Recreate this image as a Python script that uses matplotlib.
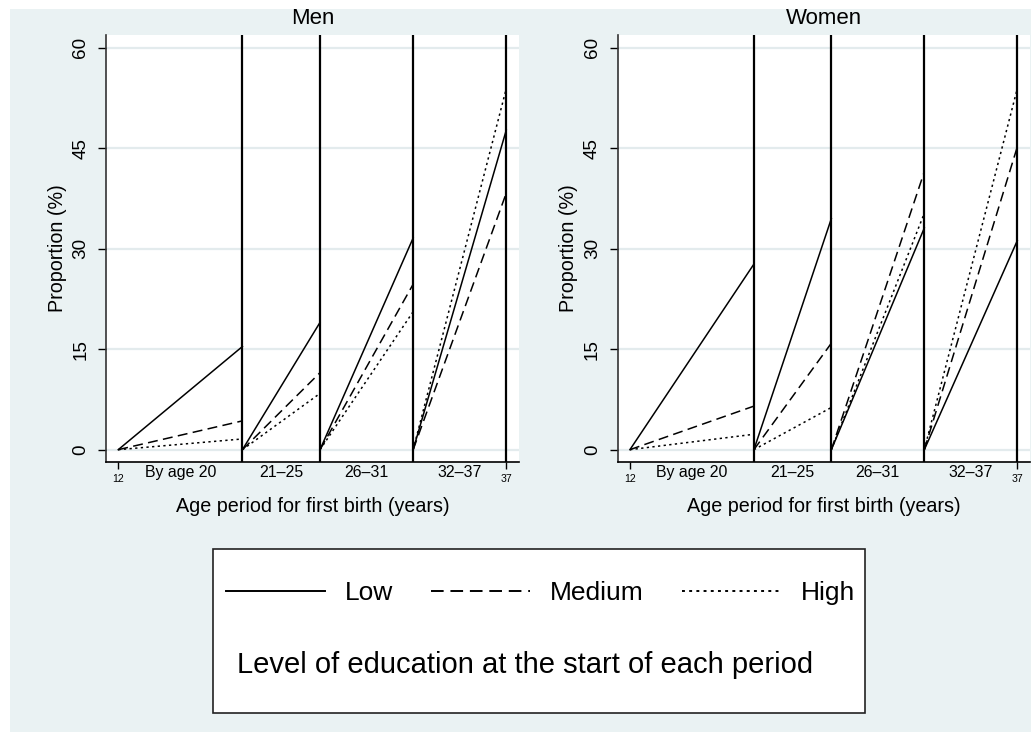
import matplotlib.pyplot as plt
from matplotlib.patches import Rectangle
from matplotlib.lines import Line2D

plt.rcParams['font.family'] = ['Liberation Sans', 'DejaVu Sans']

# ---- data ----
period_edges = [12, 20, 25, 31, 37]
period_labels = ["By age 20", "21\u201325", "26\u201331", "32\u201337"]
start_value = 0

men_low = [15.4, 19.0, 31.6, 47.7]
men_medium = [4.3, 11.5, 24.7, 38.3]
men_high = [1.6, 8.4, 20.6, 53.9]

women_low = [27.7, 34.5, 33.1, 31.2]
women_medium = [6.5, 15.9, 41.5, 45.2]
women_high = [2.3, 6.3, 35.3, 53.9]

y_ticks = [0, 15, 30, 45, 60]
edu_levels = ["Low", "Medium", "High"]

# ---- styles ----
bg = '#EAF2F3'
grid_col = '#E3EBED'
styles = {
    "Low": dict(linestyle='-'),
    "Medium": dict(dashes=(6.5, 3.5)),
    "High": dict(dashes=(1.5, 2.2)),
}

fig = plt.figure(figsize=(10.35, 7.32), dpi=100, facecolor='white')
fig.patches.append(Rectangle((10 / 1035, 0), 1021 / 1035, 723 / 732,
                             transform=fig.transFigure, facecolor=bg,
                             edgecolor='none', zorder=-10))

axes_pos = [[106 / 1035, 1 - 462 / 732, 413 / 1035, 427 / 732],
            [617.7 / 1035, 1 - 462 / 732, 412.3 / 1035, 427 / 732]]
panels = [("Men", men_low, men_medium, men_high),
          ("Women", women_low, women_medium, women_high)]

for pos, (title, low, med, high) in zip(axes_pos, panels):
    ax = fig.add_axes(pos)
    ax.set_facecolor('white')
    series = {"Low": low, "Medium": med, "High": high}
    for name in edu_levels:
        vals = series[name]
        for i in range(len(vals)):
            ax.plot([period_edges[i], period_edges[i + 1]], [start_value, vals[i]],
                    color='black', lw=1.1, zorder=3, **styles[name])
    for e in period_edges[1:]:
        ax.axvline(e, color='black', lw=1.6, zorder=4)

    ax.set_xlim(11.21, 37.82)
    ax.set_ylim(-1.84, 61.9)
    ax.set_yticks(y_ticks)
    ax.set_yticklabels([str(t) for t in y_ticks], fontsize=13.6)
    ax.tick_params(axis='y', labelrotation=90, length=6, width=1, pad=6)
    for lab in ax.get_yticklabels():
        lab.set_va('center')
    ax.set_xticks([period_edges[0], period_edges[-1]])
    ax.set_xticklabels([str(period_edges[0]), str(period_edges[-1])], fontsize=7.6)
    ax.tick_params(axis='x', which='major', length=5, width=1, pad=4)
    mids = [(period_edges[i] + period_edges[i + 1]) / 2 for i in range(len(period_labels))]
    ax.set_xticks(mids, minor=True)
    ax.set_xticklabels(period_labels, minor=True, fontsize=11.4)
    ax.tick_params(axis='x', which='minor', length=0, pad=2)

    ax.yaxis.grid(True, color=grid_col, lw=1.6, zorder=0)
    ax.set_axisbelow(True)
    for s in ['top', 'right']:
        ax.spines[s].set_visible(False)
    ax.spines['left'].set_color('#333333')
    ax.spines['left'].set_linewidth(1.2)
    ax.spines['bottom'].set_linewidth(1.2)

    ax.set_ylabel("Proportion (%)", fontsize=14.2, labelpad=4)
    ax.set_xlabel("Age period for first birth (years)", fontsize=14.2, labelpad=9)
    ax.text(0.5, 1 + 17 / 427, title, transform=ax.transAxes, ha='center',
            va='center', fontsize=16)

# ---- legend box ----
fig.patches.append(Rectangle((213 / 1035, 1 - 713 / 732), 652 / 1035, 164 / 732,
                             transform=fig.transFigure, facecolor='white',
                             edgecolor='#222222', lw=1.2, zorder=1))
handles = [Line2D([], [], color='black', lw=1.4, **styles[n]) for n in edu_levels]
leg = fig.legend(handles, edu_levels, loc='center left',
                 bbox_to_anchor=(226 / 1035, 1 - 593 / 732), ncol=3, frameon=False,
                 fontsize=19, handlelength=3.75, handletextpad=0.75,
                 columnspacing=1.45, borderpad=0, borderaxespad=0)
fig.text(237 / 1035, 1 - 665 / 732, "Level of education at the start of each period",
         ha='left', va='center', fontsize=21)

fig.savefig("out.png", dpi=100)
